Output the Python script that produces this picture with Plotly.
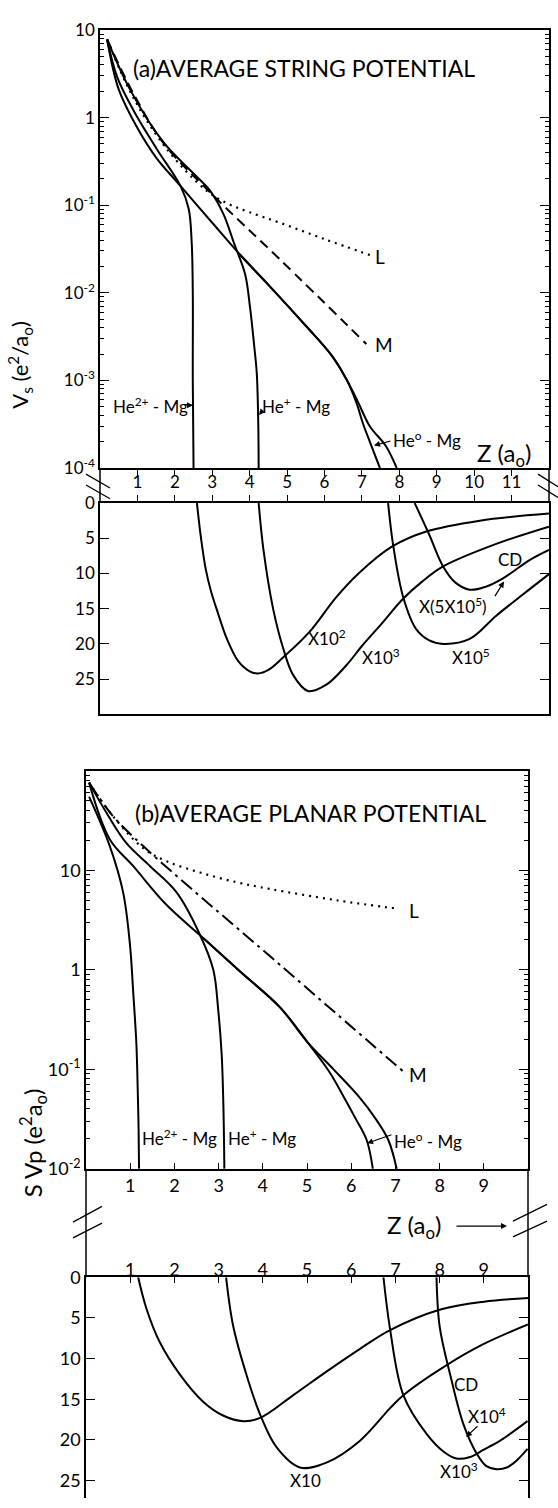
import plotly.graph_objects as go

W, H = 558, 1508

# ---------------- Panel (a) upper: average string potential V_s (log) ----------------
a_he2_z = [0.19, 0.46, 0.9, 1.53, 2.15, 2.37, 2.45, 2.48, 2.48, 2.5]
a_he2_v = [7.8, 2.9, 1.2, 0.43, 0.166, 0.091, 0.038, 0.01, 0.001, 0.0001]

a_he1_z = [0.19, 0.8, 1.7, 2.5, 2.95, 3.3, 3.57, 3.88, 4.01, 4.12, 4.19, 4.23, 4.24]
a_he1_v = [7.8, 2.1, 0.52, 0.23, 0.145, 0.079, 0.038, 0.0162, 0.0068, 0.0025, 0.0012, 0.00032, 0.0001]

a_he0_z = [0.19, 0.5, 1.0, 1.5, 2.15, 3.0, 3.75, 4.55, 5.5, 6.2, 6.59, 6.85, 7.03, 7.21, 7.48]
a_he0_v = [7.8, 2.1, 0.76, 0.35, 0.166, 0.063, 0.027, 0.0117, 0.0042, 0.0019, 0.00102, 0.00056, 0.00032, 0.0002, 0.0001]

a_cd_z = [3.75, 4.55, 5.5, 6.2, 6.59, 6.9, 7.21, 7.64, 7.93]
a_cd_v = [0.027, 0.0117, 0.0042, 0.0019, 0.00102, 0.00056, 0.0003, 0.000178, 0.0001]

a_m_z = [0.19, 0.9, 1.7, 2.95, 4.81, 7.12]
a_m_v = [7.8, 1.86, 0.51, 0.139, 0.024, 0.0026]

a_l_z = [0.19, 0.9, 1.8, 2.86, 3.4, 4.0, 4.81, 6.0, 7.21]
a_l_v = [7.8, 1.66, 0.43, 0.145, 0.105, 0.083, 0.063, 0.041, 0.027]

# ---------------- Panel (a) lower: scaled curves (linear, inverted) ----------------
a_x100_z = [2.59, 2.7, 2.83, 2.97, 3.12, 3.4, 3.7, 4.0, 4.22, 4.5, 4.9, 5.6, 6.31, 6.93, 7.8, 8.72, 10.15, 12.0]
a_x100_v = [0, 5.0, 9.5, 12.6, 15.1, 19.4, 22.5, 23.9, 24.2, 23.7, 21.9, 18.3, 13.4, 9.9, 6.2, 4.05, 2.5, 1.5]

a_x1e3_z = [4.24, 4.37, 4.63, 4.90, 5.16, 5.56, 6.05, 6.59, 7.0, 7.5, 8.1, 8.6, 9.17, 10.59, 12.0]
a_x1e3_v = [0, 6.7, 15.1, 20.7, 24.4, 26.7, 25.8, 23.0, 20.3, 17.3, 13.6, 11.2, 9.0, 5.8, 3.35]

a_cd5_z = [8.41, 8.8, 9.17, 9.5, 9.88, 10.3, 10.77, 11.48, 12.0]
a_cd5_v = [0, 4.5, 9.0, 11.3, 12.3, 11.9, 10.7, 8.1, 6.65]

a_x1e5_z = [7.70, 7.83, 8.1, 8.45, 8.8, 9.17, 9.88, 10.59, 11.3, 12.0]
a_x1e5_v = [0, 5.8, 13.3, 17.9, 19.5, 20.0, 19.3, 16.0, 13.0, 10.1]

# ---------------- Panel (b) upper: average planar potential S Vp (log) ----------------
b_he2_z = [0.07, 0.54, 0.84, 0.995, 1.07, 1.14, 1.17, 1.19, 1.2]
b_he2_v = [55, 17.4, 6.0, 1.78, 0.58, 0.18, 0.063, 0.025, 0.01]

b_he1_z = [0.07, 0.5, 0.92, 1.45, 2.05, 2.58, 2.88, 2.99, 3.07, 3.11, 3.13]
b_he1_v = [76, 35.5, 18.6, 11.0, 6.0, 2.24, 1.0, 0.4, 0.14, 0.04, 0.01]

b_he0_z = [0.07, 0.54, 1.07, 1.82, 2.65, 3.5, 4.39, 5.0, 5.5, 5.82, 6.1, 6.35, 6.49]
b_he0_v = [76, 20.4, 11.0, 4.5, 2.09, 0.95, 0.42, 0.19, 0.095, 0.054, 0.032, 0.0195, 0.01]

b_cd_z = [2.65, 3.5, 4.39, 5.0, 5.6, 6.16, 6.55, 6.84, 7.03]
b_cd_v = [2.09, 0.95, 0.42, 0.19, 0.1, 0.054, 0.032, 0.0195, 0.01]

b_m_z = [0.07, 0.6, 1.3, 4.39, 7.18]
b_m_v = [76, 35.5, 17.4, 1.12, 0.095]

b_l_z = [0.07, 0.6, 1.3, 1.83, 2.58, 3.4, 4.16, 5.67, 7.07]
b_l_v = [76, 35.5, 16.6, 12.3, 9.5, 7.6, 6.5, 5.0, 4.1]

# ---------------- Panel (b) lower: scaled curves ----------------
b_x1_z = [1.18, 1.37, 1.67, 2.13, 2.65, 3.1, 3.56, 3.94, 4.69, 5.44, 6.2, 6.88, 8.0, 9.0, 10.0]
b_x1_v = [0, 3.9, 8.0, 12.0, 15.3, 17.0, 17.7, 17.3, 14.5, 11.6, 8.8, 6.5, 4.0, 3.0, 2.55]

b_x10_z = [3.17, 3.33, 3.63, 3.94, 4.31, 4.84, 5.44, 6.2, 6.88, 7.18, 8.16, 9.0, 10.0]
b_x10_v = [0, 6.0, 12.0, 16.9, 20.9, 23.4, 22.8, 20.1, 16.1, 14.5, 10.8, 8.2, 5.8]

b_x1e3_z = [6.73, 6.88, 7.18, 7.71, 8.1, 8.38, 8.69, 9.0, 9.37, 9.99]
b_x1e3_v = [0, 6.4, 14.5, 19.3, 21.5, 22.3, 22.1, 21.2, 20.1, 17.7]

b_cd4_z = [7.93, 8.0, 8.24, 8.54, 8.84, 9.05, 9.29, 9.52, 9.75, 9.99]
b_cd4_v = [0, 6.0, 12.0, 18.1, 21.7, 23.2, 23.6, 23.4, 22.5, 21.1]

# tick values / labels
a_log_ticks = [1e-4, 1e-3, 1e-2, 1e-1, 1, 10]
a_log_text = ['10<sup>-4</sup>', '10<sup>-3</sup>', '10<sup>-2</sup>', '10<sup>-1</sup>', '1', '10']
b_log_ticks = [1e-2, 1e-1, 1, 10]
b_log_text = ['10<sup>-2</sup>', '10<sup>-1</sup>', '1', '10']
lin_ticks = [0, 5, 10, 15, 20, 25]
a_z_ticks = list(range(1, 12))
b_z_ticks = list(range(1, 10))
a_minor = [k * 10.0 ** e for e in range(-4, 1) for k in range(2, 10)]
b_minor = [k * 10.0 ** e for e in range(-2, 2) for k in range(2, 10)]

FONT = "Lato"


def line(x, y, xa, ya, dash='solid', width=2.0):
    return go.Scatter(x=x, y=y, xaxis=xa, yaxis=ya, mode='lines', hoverinfo='skip',
                      line=dict(color='black', width=width, dash=dash,
                                shape='spline', smoothing=1.0))


DOT = '2px,5px'
DASH = '10px,6px'
DASHDOT = '14px,5px,3px,5px'

traces = [
    line(a_he2_z, a_he2_v, 'x', 'y'),
    line(a_he1_z, a_he1_v, 'x', 'y'),
    line(a_he0_z, a_he0_v, 'x', 'y'),
    line(a_cd_z, a_cd_v, 'x', 'y'),
    line(a_m_z, a_m_v, 'x', 'y', DASH),
    line(a_l_z, a_l_v, 'x', 'y', DOT, 2.2),
    line(a_x100_z, a_x100_v, 'x2', 'y2'),
    line(a_x1e3_z, a_x1e3_v, 'x2', 'y2'),
    line(a_cd5_z, a_cd5_v, 'x2', 'y2'),
    line(a_x1e5_z, a_x1e5_v, 'x2', 'y2'),
    line(b_he2_z, b_he2_v, 'x3', 'y3'),
    line(b_he1_z, b_he1_v, 'x3', 'y3'),
    line(b_he0_z, b_he0_v, 'x3', 'y3'),
    line(b_cd_z, b_cd_v, 'x3', 'y3'),
    line(b_m_z, b_m_v, 'x3', 'y3', DASHDOT),
    line(b_l_z, b_l_v, 'x3', 'y3', DOT, 2.2),
    line(b_x1_z, b_x1_v, 'x4', 'y4'),
    line(b_x10_z, b_x10_v, 'x4', 'y4'),
    line(b_x1e3_z, b_x1e3_v, 'x4', 'y4'),
    line(b_cd4_z, b_cd4_v, 'x4', 'y4'),
]

fig = go.Figure(traces)


def dom_x(l, r):
    return [l / W, r / W]


def dom_y(top, bot):
    return [1 - bot / H, 1 - top / H]


fa = dict(family=FONT, size=17, color='black')
fb = dict(family=FONT, size=18, color='black')
base = dict(showline=True, linecolor='black', linewidth=1.5, showgrid=False,
            zeroline=False, tickcolor='black', tickwidth=1.2, tickfont=fa)

AX_L, AX_R = 100, 549
BX_L, BX_R = 86, 528
A_TOP, A_BOT = 18.3, 462.7
A2_TOP, A2_BOT = 498.3, 712.7
B_TOP, B_BOT = 770, 1174
B2_TOP, B2_BOT = 1284, 1508

fig.update_layout(
    width=W, height=H, margin=dict(l=0, r=0, t=0, b=0),
    paper_bgcolor='white', plot_bgcolor='white', showlegend=False,
    font=dict(family=FONT, color='black'),
    xaxis=dict(base, domain=dom_x(AX_L, AX_R), range=[0, 12], anchor='y',
               tickmode='array', tickvals=a_z_ticks, ticks='outside', ticklen=6,
               showticklabels=False, mirror=True),
    yaxis=dict(base, domain=dom_y(A_TOP, A_BOT), type='log', range=[-4, 1], anchor='x',
               tickmode='array', tickvals=a_log_ticks, ticktext=a_log_text,
               ticks='inside', ticklen=9, mirror='ticks',
               minor=dict(tickmode='array', tickvals=a_minor, ticks='inside', ticklen=4,
                          tickcolor='black', showgrid=False)),
    xaxis2=dict(base, domain=dom_x(AX_L, AX_R), range=[0, 12], anchor='y2', side='top',
                tickmode='array', tickvals=a_z_ticks, ticks='outside', ticklen=6,
                mirror=True),
    yaxis2=dict(base, domain=dom_y(A2_TOP, A2_BOT), range=[30, 0], anchor='x2',
                tickmode='array', tickvals=lin_ticks, ticks='inside', ticklen=9,
                mirror='ticks'),
    xaxis3=dict(base, domain=dom_x(BX_L, BX_R), range=[0, 10], anchor='y3',
                tickmode='array', tickvals=b_z_ticks, ticks='inside', ticklen=6,
                mirror=True, tickfont=fb),
    yaxis3=dict(base, domain=dom_y(B_TOP, B_BOT), type='log', range=[-2, 2], anchor='x3',
                tickmode='array', tickvals=b_log_ticks, ticktext=b_log_text,
                ticks='inside', ticklen=9, mirror='ticks', tickfont=fb,
                minor=dict(tickmode='array', tickvals=b_minor, ticks='inside', ticklen=4,
                           tickcolor='black', showgrid=False)),
    xaxis4=dict(base, domain=dom_x(BX_L, BX_R), range=[0, 10], anchor='y4', side='top',
                tickmode='array', tickvals=b_z_ticks, ticks='inside', ticklen=6,
                mirror=False, tickfont=fb, ticklabelstandoff=-8),
    yaxis4=dict(base, domain=dom_y(B2_TOP, B2_BOT), range=[27.15, 0], anchor='x4',
                tickmode='array', tickvals=lin_ticks, ticks='inside', ticklen=9,
                mirror='ticks', tickfont=fb),
)


def P(xp, yp):
    return xp / W, 1 - yp / H


ann = []


def txt(s, xp, yp, size=17, anchor='left', angle=0):
    x, y = P(xp, yp)
    ann.append(dict(text=s, x=x, y=y, xref='paper', yref='paper', showarrow=False,
                    xanchor=anchor, yanchor='middle', textangle=angle, borderpad=0,
                    font=dict(family=FONT, size=size, color='black')))


def arr(xh, yh, xt, yt, w=1.2):
    x, y = P(xh, yh)
    ann.append(dict(text='', x=x, y=y, xref='paper', yref='paper', showarrow=True,
                    ax=xt - xh, ay=yt - yh, arrowhead=2, arrowsize=1, arrowwidth=w,
                    arrowcolor='black'))


# panel (a)
txt('(a)AVERAGE STRING POTENTIAL', 132, 57, 23)
txt('L', 374, 248, 19)
txt('M', 374, 337, 19)
txt('He<sup>2+</sup> - Mg', 112, 399, 17)
arr(193, 399, 186, 399)
txt('He<sup>+</sup> - Mg', 261, 399, 17)
arr(259, 409, 264, 403)
txt('He<sup>o</sup> - Mg', 392, 434, 17)
arr(374, 440, 392, 435)
txt('Z (a<sub>o</sub>)', 476, 449, 24)
txt('X10<sup>2</sup>', 307, 635, 17)
txt('X10<sup>3</sup>', 361, 654, 17)
txt('X10<sup>5</sup>', 451, 654, 17)
txt('X(5X10<sup>5</sup>)', 418, 602, 17)
txt('CD', 497, 556, 17)
arr(504, 578, 494, 594)
txt('V<sub>s</sub> (e<sup>2</sup>/a<sub>o</sub>)', 20, 358, 22, 'center', -90)

# panel (b)
txt('(b)AVERAGE PLANAR POTENTIAL', 134, 813, 23)
txt('L', 408, 912, 19)
txt('M', 408, 1078, 19)
txt('He<sup>2+</sup> - Mg', 141, 1142, 17)
txt('He<sup>+</sup> - Mg', 227, 1142, 17)
txt('He<sup>o</sup> - Mg', 393, 1145, 17)
arr(367, 1148, 393, 1139)
txt('Z (a<sub>o</sub>)', 386, 1232, 24)
arr(507, 1232, 455, 1232)
txt('X10', 289, 1490, 17)
txt('CD', 453, 1393, 17)
txt('X10<sup>4</sup>', 467, 1424, 17)
arr(466, 1446, 479, 1434)
txt('X10<sup>3</sup>', 439, 1480, 17)
txt('S Vp (e<sup>2</sup>a<sub>o</sub>)', 33, 1148, 24, 'center', -90)

fig.update_layout(annotations=ann)

shapes = []


def seg(x0, y0, x1, y1, w=1.5):
    a0, b0 = P(x0, y0)
    a1, b1 = P(x1, y1)
    shapes.append(dict(type='line', xref='paper', yref='paper', x0=a0, y0=b0, x1=a1, y1=b1,
                       line=dict(color='black', width=w)))


# borders through the gap strips
seg(AX_L, A_BOT, AX_L, A2_TOP)
seg(AX_R, A_BOT, AX_R, A2_TOP)
seg(BX_L, B_BOT, BX_L, B2_TOP)
seg(BX_R, B_BOT, BX_R, B2_TOP)
# axis break marks
seg(86, 469, 110, 483, 1.3)
seg(86, 480, 110, 494, 1.3)
seg(538, 469, 560, 483, 1.3)
seg(538, 480, 560, 494, 1.3)
seg(73, 1228, 102, 1212, 1.3)
seg(73, 1244, 102, 1229, 1.3)
seg(513, 1227, 547, 1210, 1.3)
seg(513, 1243, 547, 1227, 1.3)

fig.update_layout(shapes=shapes)

fig.write_html("out.html")
